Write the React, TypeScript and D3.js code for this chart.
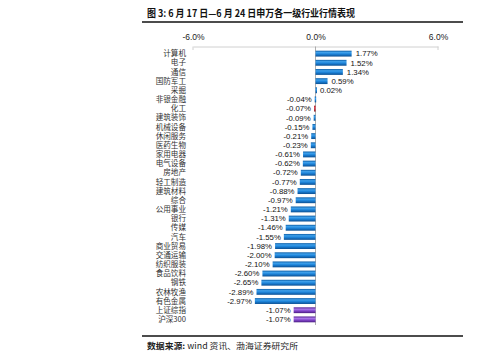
import React from "react";
import * as d3 from "d3";

const categories = [
  "计算机", "电子", "通信", "国防军工", "采掘", "非银金融", "化工", "建筑装饰",
  "机械设备", "休闲服务", "医药生物", "家用电器", "电气设备", "房地产", "轻工制造",
  "建筑材料", "综合", "公用事业", "银行", "传媒", "汽车", "商业贸易", "交通运输",
  "纺织服装", "食品饮料", "钢铁", "农林牧渔", "有色金属", "上证综指", "沪深300",
];
const values = [
  1.77, 1.52, 1.34, 0.59, 0.02, -0.04, -0.07, -0.09, -0.15, -0.21, -0.23, -0.61,
  -0.62, -0.72, -0.77, -0.88, -0.97, -1.21, -1.31, -1.46, -1.55, -1.98, -2.0,
  -2.1, -2.6, -2.65, -2.89, -2.97, -1.07, -1.07,
];
const axisTicks = [-6, 0, 6];
const redCategory = "化工";
const indexCategories = ["上证综指", "沪深300"];

const W = 499;
const H = 359;
const CJK = "'Noto Sans CJK SC', sans-serif";
const LAT = "'Liberation Sans', Arial, sans-serif";

const App = () => {
  const svgRef = React.useRef<SVGSVGElement>(null);

  React.useEffect(() => {
    const svg = d3.select(svgRef.current);
    svg.selectAll("*").remove();

    const data = categories.map((c, i) => ({ name: c, value: values[i] }));

    const x = d3.scaleLinear().domain([-6, 6]).range([193, 438]);
    const y = d3.scaleBand<string>().domain(categories).range([47.4, 325.6]).padding(0.36);

    // 원통 느낌 그라디언트
    const defs = svg.append("defs");
    const mkGrad = (id: string, stops: [number, string][]) => {
      const g = defs.append("linearGradient").attr("id", id)
        .attr("x1", 0).attr("y1", 0).attr("x2", 0).attr("y2", 1);
      stops.forEach(([o, c]) => g.append("stop").attr("offset", o).attr("stop-color", c));
    };
    mkGrad("gBlue", [[0, "#0d5fa8"], [0.3, "#3fa0ea"], [0.55, "#1e86dc"], [1, "#0b4f92"]]);
    mkGrad("gRed", [[0, "#9c0d16"], [0.35, "#e2394a"], [1, "#8a0a14"]]);
    mkGrad("gPurple", [[0, "#5a2a99"], [0.35, "#a774e6"], [0.6, "#8548cf"], [1, "#4a1d82"]]);

    // 제목, 가로줄
    svg.append("text")
      .attr("x", 147).attr("y", 17)
      .attr("font-family", CJK).attr("font-weight", "bold").attr("font-size", 9.8)
      .attr("fill", "#111")
      .attr("textLength", 208).attr("lengthAdjust", "spacingAndGlyphs")
      .text("图 3:  6 月 17 日—6 月 24 日申万各一级行业行情表现");
    svg.append("line").attr("x1", 142).attr("x2", 463).attr("y1", 22).attr("y2", 22)
      .attr("stroke", "#111").attr("stroke-width", 1.6);
    svg.append("line").attr("x1", 142).attr("x2", 463).attr("y1", 336).attr("y2", 336)
      .attr("stroke", "#111").attr("stroke-width", 1.6);
    svg.append("text")
      .attr("x", 147).attr("y", 349)
      .attr("font-family", CJK).attr("font-size", 8.4).attr("fill", "#222")
      .attr("textLength", 151).attr("lengthAdjust", "spacingAndGlyphs")
      .call((t) => {
        t.append("tspan").attr("font-weight", "bold").text("数据来源: ");
        t.append("tspan").text("wind 资讯、渤海证券研究所");
      });

    // 위쪽 축
    const axisG = svg.append("g").attr("transform", "translate(0,46.5)");
    axisG.call(
      d3.axisTop(x).tickValues(axisTicks).tickSize(0).tickPadding(7)
        .tickFormat((v) => `${(+v).toFixed(1)}%`)
    );
    axisG.select(".domain").attr("stroke", "#d0d0d0");
    axisG.selectAll("text").attr("font-family", LAT).attr("font-size", 8.5).attr("fill", "#222");
    svg.append("line").attr("x1", x(-6)).attr("x2", x(-6)).attr("y1", 46.5).attr("y2", 50)
      .attr("stroke", "#d0d0d0");
    svg.append("line").attr("x1", x(6)).attr("x2", x(6)).attr("y1", 46.5).attr("y2", 50)
      .attr("stroke", "#d0d0d0");

    // 0 기준선
    svg.append("line").attr("x1", x(0)).attr("x2", x(0)).attr("y1", 46.5).attr("y2", 325)
      .attr("stroke", "#9a9a9a").attr("stroke-width", 0.8);

    // 막대
    const fillOf = (d: { name: string }) =>
      d.name === redCategory ? "url(#gRed)"
        : indexCategories.includes(d.name) ? "url(#gPurple)" : "url(#gBlue)";

    svg.append("g").selectAll("rect").data(data).enter().append("rect")
      .attr("x", (d) => Math.min(x(0), x(d.value)))
      .attr("y", (d) => y(d.name)!)
      .attr("width", (d) => Math.max(1.5, Math.abs(x(d.value) - x(0))))
      .attr("height", y.bandwidth())
      .attr("fill", fillOf);

    // 카테고리 라벨
    svg.append("g").selectAll("text").data(data).enter().append("text")
      .attr("x", 186)
      .attr("y", (d) => y(d.name)! + y.bandwidth() / 2)
      .attr("dy", "0.35em")
      .attr("text-anchor", "end")
      .attr("font-family", CJK).attr("font-size", 7.6).attr("fill", "#333")
      .text((d) => d.name);

    // 값 라벨
    svg.append("g").selectAll("text").data(data).enter().append("text")
      .attr("x", (d) => (d.value >= 0 ? x(d.value) + 4 : x(d.value) - 3))
      .attr("y", (d) => y(d.name)! + y.bandwidth() / 2)
      .attr("dy", "0.35em")
      .attr("text-anchor", (d) => (d.value >= 0 ? "start" : "end"))
      .attr("font-family", LAT).attr("font-size", 7.8).attr("fill", "#111")
      .text((d) => `${d.value.toFixed(2)}%`);
  }, []);

  return (
    <svg ref={svgRef} width={W} height={H}
      style={{ position: "absolute", left: 0, top: 0, background: "#fff" }} />
  );
};

export default App;
